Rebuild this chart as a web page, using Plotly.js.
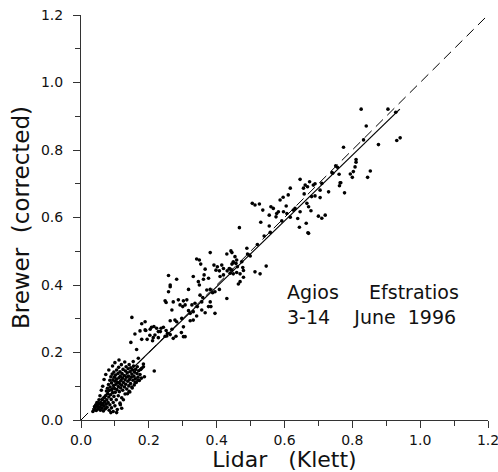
<!DOCTYPE html>
<html>
<head>
<meta charset="utf-8">
<script src="https://cdn.plot.ly/plotly-3.0.1.min.js"></script>
<style>html,body{margin:0;padding:0;background:#fff;}#chart{width:498px;height:472px;}</style>
</head>
<body>
<div id="chart"></div>
<script>
// Lidar (Klett) vs Brewer (corrected) aerosol optical depth pairs
var lidar = [
// dense low cluster
0.038,0.042,0.045,0.048,0.050,0.052,0.055,0.057,0.058,0.060,0.062,0.063,0.065,0.066,0.068,0.069,0.070,0.072,0.073,0.074,
0.075,0.076,0.077,0.078,0.079,0.080,0.081,0.082,0.083,0.084,0.085,0.085,0.086,0.087,0.088,0.089,0.090,0.090,0.091,0.092,
0.093,0.094,0.095,0.096,0.097,0.097,0.098,0.099,0.100,0.100,0.101,0.102,0.103,0.104,0.105,0.105,0.106,0.107,0.108,0.109,
0.110,0.110,0.111,0.112,0.113,0.114,0.115,0.115,0.116,0.117,0.118,0.119,0.120,0.120,0.121,0.122,0.123,0.124,0.125,0.116,
0.127,0.128,0.129,0.130,0.130,0.131,0.132,0.133,0.134,0.135,0.136,0.137,0.138,0.139,0.140,0.141,0.142,0.143,0.144,0.145,
0.146,0.147,0.148,0.150,0.151,0.152,0.153,0.155,0.156,0.157,0.158,0.160,0.161,0.163,0.165,0.166,0.168,0.170,0.172,0.174,
0.176,0.178,0.184,0.187,0.216,0.112,0.100,0.093,0.082,0.073,0.068,0.064,0.060,0.056,0.053,0.047,0.044,0.040,0.035,0.095,
0.105,0.088,0.120,0.125,0.142,0.150,0.160,0.168,0.169,0.154,0.179,0.184,
// 0.15 - 0.30
0.150,0.159,0.147,0.164,0.191,0.179,0.204,0.215,0.228,0.243,0.253,0.268,0.189,0.208,0.223,0.236,0.251,0.234,0.255,0.263,
0.203,0.213,0.218,0.228,0.195,0.211,0.248,0.272,0.280,0.296,0.302,0.307,0.174,0.179,0.189,
// 0.25 - 0.50
0.248,0.258,0.263,0.258,0.282,0.287,0.292,0.300,0.331,0.317,0.341,0.376,0.395,0.430,
0.381,0.430,0.445,0.454,0.459,0.449,0.491,0.349,0.353,0.366,0.363,0.392,0.398,0.402,0.408,0.415,0.420,0.431,0.440,0.437,
0.445,0.410,0.420,0.449,0.459,0.469,0.479,0.469,0.346,0.349,0.361,0.263,0.371,0.381,0.388,0.395,0.351,0.359,0.356,0.408,
0.272,0.251,0.302,0.312,0.307,0.327,0.336,0.343,0.381,0.383,0.268,0.317,0.322,0.331,0.356,0.366,0.376,0.277,0.282,0.263,
0.297,0.322,0.331,0.341,0.302,
// 0.44 - 0.72
0.617,0.611,0.658,0.505,0.513,0.526,0.587,0.560,0.567,0.605,0.666,0.671,0.536,0.555,0.577,0.582,0.575,0.597,0.607,0.626,
0.631,0.646,0.678,0.617,0.639,0.700,0.720,0.710,0.530,0.664,0.644,0.555,0.669,0.467,0.558,0.442,0.489,0.449,0.445,0.457,
0.461,0.499,0.440,0.477,0.474,0.479,0.546,0.513,0.528,0.464,0.671,0.596,0.496,0.520,0.592,0.540,
// upper
0.826,0.905,0.928,0.841,0.931,0.941,0.877,0.774,0.833,0.811,0.811,0.751,0.756,0.742,0.803,0.794,0.800,0.853,0.845,0.764,
0.762,0.777,0.730,0.705,0.705,0.674,0.661,0.656,0.668,0.685,0.646,0.680,0.690,0.710,0.761,0.740,0.808,0.766,0.690
];
var brewer = [
// dense low cluster
0.030,0.036,0.028,0.041,0.033,0.047,0.038,0.029,0.052,0.044,0.035,0.060,0.049,0.027,0.041,0.066,0.055,0.033,0.072,0.047,
0.086,0.060,0.038,0.094,0.078,0.052,0.105,0.068,0.029,0.088,0.118,0.045,0.098,0.075,0.128,0.061,0.110,0.036,0.090,0.136,
0.081,0.119,0.052,0.102,0.142,0.070,0.127,0.093,0.042,0.115,0.082,0.133,0.106,0.060,0.148,0.121,0.090,0.031,0.112,0.138,
0.099,0.072,0.156,0.125,0.084,0.108,0.143,0.050,0.130,0.095,0.117,0.164,0.103,0.066,0.138,0.124,0.088,0.150,0.111,0.045,
0.132,0.098,0.172,0.119,0.077,0.145,0.106,0.158,0.127,0.092,0.140,0.078,0.115,0.152,0.130,0.101,0.164,0.120,0.083,0.143,
0.108,0.155,0.127,0.136,0.095,0.148,0.118,0.160,0.130,0.104,0.142,0.122,0.150,0.111,0.138,0.158,0.127,0.146,0.117,0.135,
0.150,0.124,0.158,0.128,0.145,0.178,0.170,0.160,0.148,0.135,0.120,0.100,0.088,0.072,0.060,0.052,0.045,0.040,0.025,0.025,
0.022,0.022,0.035,0.060,0.085,0.098,0.112,0.118,0.183,0.173,0.153,0.166,
// 0.15 - 0.30
0.304,0.255,0.230,0.209,0.265,0.239,0.269,0.277,0.262,0.275,0.249,0.269,0.267,0.275,0.272,0.272,0.265,0.262,0.257,0.253,
0.251,0.244,0.252,0.244,0.239,0.235,0.248,0.242,0.248,0.259,0.247,0.247,0.264,0.285,0.291,
// 0.25 - 0.50
0.353,0.380,0.395,0.428,0.417,0.356,0.341,0.336,0.425,0.387,0.477,0.420,0.316,0.360,
0.496,0.492,0.496,0.484,0.474,0.469,0.492,0.474,0.462,0.447,0.430,0.459,0.444,0.454,0.442,0.459,0.449,0.442,0.435,0.449,
0.444,0.425,0.430,0.433,0.437,0.433,0.443,0.410,0.410,0.400,0.417,0.400,0.385,0.387,0.377,0.380,0.370,0.363,0.350,0.387,
0.350,0.348,0.353,0.356,0.341,0.341,0.346,0.336,0.350,0.336,0.326,0.324,0.316,0.321,0.326,0.318,0.336,0.296,0.291,0.294,
0.301,0.294,0.296,0.308,0.276,
// 0.44 - 0.72
0.687,0.667,0.670,0.642,0.637,0.640,0.652,0.632,0.627,0.634,0.642,0.632,0.622,0.607,0.612,0.617,0.602,0.617,0.612,0.622,
0.627,0.617,0.620,0.601,0.597,0.604,0.607,0.598,0.586,0.583,0.571,0.575,0.555,0.570,0.556,0.501,0.509,0.466,0.462,0.464,
0.454,0.486,0.447,0.452,0.469,0.423,0.456,0.439,0.433,0.403,0.553,0.660,0.489,0.520,0.590,0.545,
// upper
0.921,0.921,0.912,0.871,0.828,0.836,0.816,0.808,0.830,0.772,0.764,0.753,0.749,0.731,0.736,0.729,0.719,0.738,0.719,0.703,
0.694,0.673,0.676,0.681,0.659,0.706,0.696,0.687,0.691,0.696,0.713,0.662,0.664,0.701,0.728,0.733,0.750,0.703,0.700
];
// regression line (solid) and 1:1 line (dashed)
var fitX = [0.04, 0.94];
var fitY = [0.044, 0.921];
var oneX = [0.0, 1.2];
var oneY = [0.0, 1.2];
var tickVals = [0, 0.2, 0.4, 0.6, 0.8, 1.0, 1.2];
var tickText = ['0.0', '0.2', '0.4', '0.6', '0.8', '1.0', '1.2'];

var nb = '\u00A0';
var axisCommon = {
  range: [0, 1.2], autorange: false,
  tickmode: 'array', tickvals: tickVals, ticktext: tickText,
  ticks: 'outside', ticklen: 7, tickwidth: 1, tickcolor: '#333',
  minor: {dtick: 0.1, tick0: 0, ticks: 'outside', ticklen: 5, tickcolor: '#333', showgrid: false},
  showline: true, linecolor: '#333', linewidth: 1, mirror: false,
  showgrid: false, zeroline: false,
  ticklabeloverflow: 'allow',
  tickfont: {family: 'DejaVu Sans', size: 14, color: '#111'}
};
var xaxis = Object.assign({}, axisCommon, {
  title: {text: 'Lidar' + nb + nb + nb + '(Klett)', font: {family: 'DejaVu Sans', size: 22, color: '#111'}, standoff: 9}
});
var yaxis = Object.assign({}, axisCommon, {
  ticklabelstandoff: 7,
  title: {text: 'Brewer' + nb + nb + '(corrected)', font: {family: 'DejaVu Sans', size: 23, color: '#111'}, standoff: 4}
});

var traces = [
  {x: oneX, y: oneY, mode: 'lines', line: {color: '#000', width: 1, dash: '10px,6px'}, hoverinfo: 'skip'},
  {x: fitX, y: fitY, mode: 'lines', line: {color: '#000', width: 1.2}, hoverinfo: 'skip'},
  {x: lidar, y: brewer, mode: 'markers', marker: {color: '#000', size: 3.6}}
];
var layout = {
  width: 498, height: 472,
  margin: {l: 81, r: 10, t: 15, b: 52},
  paper_bgcolor: '#fff', plot_bgcolor: '#fff',
  showlegend: false,
  xaxis: xaxis, yaxis: yaxis,
  annotations: [{
    xref: 'paper', yref: 'paper', x: 0.501, y: 0.286, xanchor: 'left', yanchor: 'middle', align: 'left',
    showarrow: false,
    text: 'Agios' + nb + nb + nb + nb + nb + 'Efstratios<br>3-14' + nb + nb + nb + nb + 'June' + nb + nb + '1996',
    font: {family: 'DejaVu Sans', size: 19, color: '#111'}
  }]
};
Plotly.newPlot('chart', traces, layout, {displayModeBar: false, staticPlot: true});
</script>
</body>
</html>
